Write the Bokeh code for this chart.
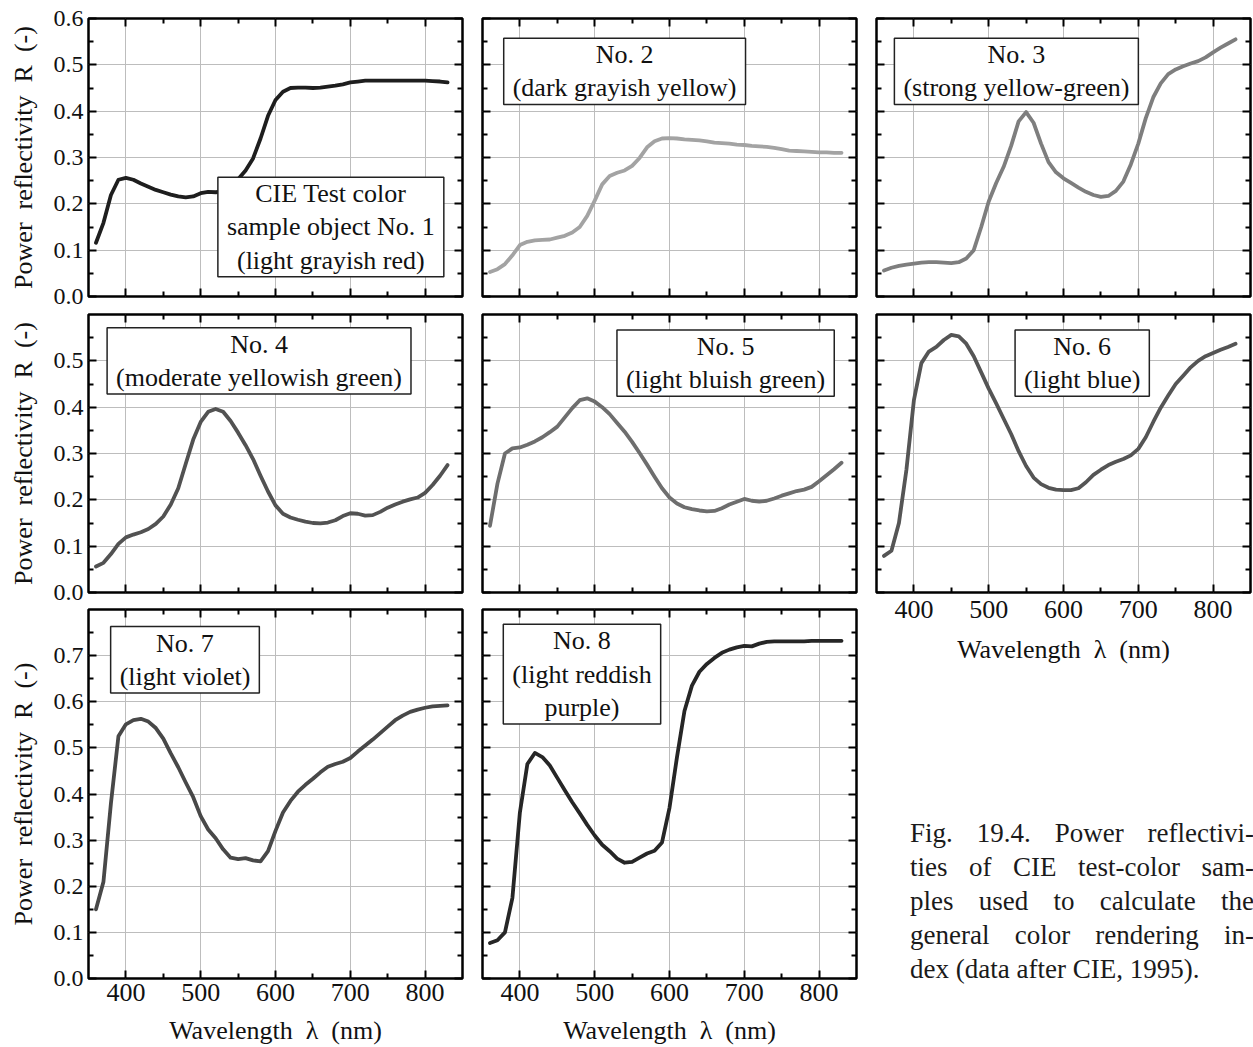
from bokeh.plotting import figure
from bokeh.models import (LinearAxis, FixedTicker, PrintfTickFormatter, CustomJSTickFormatter,
                          Range1d, Label, Div, Spacer)
from bokeh.layouts import row, column
from bokeh.embed import file_html
from bokeh.resources import INLINE

# ---------------- data ----------------
WAVELENGTH = [360, 370, 380, 390, 400, 410, 420, 430, 440, 450,
              460, 470, 480, 490, 500, 510, 520, 530, 540, 550,
              560, 570, 580, 590, 600, 610, 620, 630, 640, 650,
              660, 670, 680, 690, 700, 710, 720, 730, 740, 750,
              760, 770, 780, 790, 800, 810, 820, 830]

TCS01 = [0.116, 0.159, 0.219, 0.252, 0.256, 0.252, 0.244, 0.237, 0.230, 0.225,
         0.220, 0.216, 0.214, 0.216, 0.223, 0.226, 0.225, 0.227, 0.236, 0.253,
         0.272, 0.298, 0.341, 0.390, 0.424, 0.442, 0.450, 0.451, 0.451, 0.450,
         0.451, 0.453, 0.455, 0.458, 0.462, 0.464, 0.466, 0.466, 0.466, 0.466,
         0.466, 0.466, 0.466, 0.466, 0.466, 0.465, 0.464, 0.462]
TCS02 = [0.053, 0.059, 0.070, 0.089, 0.111, 0.118, 0.121, 0.122, 0.123, 0.127,
         0.131, 0.138, 0.150, 0.174, 0.207, 0.242, 0.260, 0.267, 0.272, 0.282,
         0.299, 0.322, 0.335, 0.341, 0.342, 0.341, 0.339, 0.338, 0.337, 0.335,
         0.332, 0.331, 0.330, 0.328, 0.327, 0.325, 0.324, 0.323, 0.321, 0.318,
         0.315, 0.314, 0.313, 0.312, 0.311, 0.311, 0.310, 0.310]
TCS03 = [0.056, 0.062, 0.066, 0.069, 0.071, 0.073, 0.074, 0.074, 0.073, 0.072,
         0.074, 0.082, 0.100, 0.150, 0.205, 0.245, 0.280, 0.325, 0.378, 0.398,
         0.375, 0.330, 0.290, 0.268, 0.255, 0.245, 0.235, 0.226, 0.219, 0.215,
         0.217, 0.228, 0.248, 0.285, 0.330, 0.385, 0.430, 0.460, 0.480, 0.490,
         0.497, 0.503, 0.508, 0.516, 0.527, 0.537, 0.546, 0.555]
TCS04 = [0.056, 0.064, 0.083, 0.105, 0.119, 0.125, 0.130, 0.137, 0.148, 0.164,
         0.190, 0.225, 0.278, 0.330, 0.368, 0.390, 0.396, 0.390, 0.370, 0.345,
         0.318, 0.288, 0.252, 0.218, 0.188, 0.170, 0.162, 0.157, 0.153, 0.150,
         0.149, 0.151, 0.156, 0.165, 0.171, 0.170, 0.166, 0.167, 0.174, 0.183,
         0.190, 0.196, 0.201, 0.205, 0.215, 0.232, 0.252, 0.275]
TCS05 = [0.144, 0.235, 0.300, 0.311, 0.313, 0.319, 0.326, 0.335, 0.346, 0.358,
         0.378, 0.398, 0.415, 0.419, 0.412, 0.400, 0.385, 0.366, 0.347, 0.325,
         0.301, 0.276, 0.250, 0.225, 0.205, 0.192, 0.184, 0.180, 0.177, 0.175,
         0.176, 0.182, 0.190, 0.196, 0.202, 0.198, 0.196, 0.198, 0.203, 0.209,
         0.214, 0.219, 0.222, 0.228, 0.240, 0.253, 0.266, 0.280]
TCS06 = [0.079, 0.090, 0.150, 0.265, 0.415, 0.495, 0.520, 0.530, 0.545, 0.556,
         0.553, 0.537, 0.510, 0.475, 0.440, 0.408, 0.375, 0.342, 0.305, 0.273,
         0.248, 0.234, 0.226, 0.222, 0.221, 0.221, 0.225, 0.238, 0.254, 0.265,
         0.275, 0.282, 0.288, 0.296, 0.310, 0.335, 0.368, 0.399, 0.425, 0.450,
         0.468, 0.486, 0.500, 0.510, 0.517, 0.524, 0.530, 0.537]
TCS07 = [0.150, 0.210, 0.380, 0.525, 0.551, 0.560, 0.563, 0.557, 0.543, 0.520,
         0.488, 0.458, 0.425, 0.393, 0.352, 0.323, 0.304, 0.280, 0.262, 0.259,
         0.261, 0.256, 0.254, 0.276, 0.320, 0.360, 0.385, 0.405, 0.420, 0.433,
         0.447, 0.459, 0.465, 0.470, 0.478, 0.492, 0.505, 0.518, 0.532, 0.546,
         0.560, 0.570, 0.578, 0.583, 0.587, 0.590, 0.591, 0.592]
TCS08 = [0.077, 0.083, 0.100, 0.175, 0.360, 0.465, 0.489, 0.480, 0.462, 0.435,
         0.408, 0.382, 0.358, 0.333, 0.310, 0.290, 0.276, 0.260, 0.251, 0.253,
         0.262, 0.271, 0.277, 0.295, 0.370, 0.480, 0.580, 0.635, 0.665, 0.682,
         0.695, 0.706, 0.713, 0.718, 0.721, 0.720, 0.726, 0.730, 0.731, 0.731,
         0.731, 0.731, 0.731, 0.732, 0.732, 0.732, 0.732, 0.732]

BOX_TEXTS = ["CIE Test color\nsample object No. 1\n(light grayish red)",
             "No. 2\n(dark grayish yellow)",
             "No. 3\n(strong yellow-green)",
             "No. 4\n(moderate yellowish green)",
             "No. 5\n(light bluish green)",
             "No. 6\n(light blue)",
             "No. 7\n(light violet)",
             "No. 8\n(light reddish\npurple)"]

X_MAJOR = [400, 500, 600, 700, 800]
X_MINOR = [450, 550, 650, 750]
Y_MAJOR_ROWS = [[0.0, 0.1, 0.2, 0.3, 0.4, 0.5, 0.6],
                [0.0, 0.1, 0.2, 0.3, 0.4, 0.5],
                [0.0, 0.1, 0.2, 0.3, 0.4, 0.5, 0.6, 0.7]]
Y_MINOR = [0.05, 0.15, 0.25, 0.35, 0.45, 0.55, 0.65, 0.75]
Y_MAX_ROWS = [0.6, 0.6, 0.8]

X_LABEL = "Wavelength\u00a0 λ\u00a0 (nm)"
Y_LABEL = "Power\u00a0 reflectivity\u00a0 R\u00a0 (-)"
CAPTION_LINES = ["Fig. 19.4. Power reflectivi-",
                 "ties of CIE test-color sam-",
                 "ples used to calculate the",
                 "general color rendering in-",
                 "dex (data after CIE, 1995)."]

# ---------------- styling / layout ----------------
FONT = "Liberation Serif"
FRAME_W = 374
COL_LEFT = [88, 10, 10]
COL_RIGHT = [10, 10, 3]
ROW_TOP = [18, 6, 5]
ROW_FRAME = [278, 278, 369]


def style_axis(ax, ticker, show_labels, fmt=None, label=None, label_standoff=14,
               size="24px", tick_standoff=5):
    ax.ticker = ticker
    ax.axis_line_color = None
    ax.major_tick_in = 8
    ax.major_tick_out = 0
    ax.minor_tick_in = 5
    ax.minor_tick_out = 0
    ax.major_tick_line_width = 2
    ax.minor_tick_line_width = 2
    ax.major_tick_line_color = "black"
    ax.minor_tick_line_color = "black"
    if show_labels:
        ax.formatter = fmt
        ax.major_label_text_font = FONT
        ax.major_label_text_font_size = size
        ax.major_label_text_color = "#111111"
        ax.major_label_standoff = tick_standoff
    else:
        ax.formatter = CustomJSTickFormatter(code="return ''")
        ax.major_label_text_font_size = "1px"
        ax.major_label_standoff = 0
    if label:
        ax.axis_label = label
        ax.axis_label_text_font = FONT
        ax.axis_label_text_font_size = "26px"
        ax.axis_label_text_font_style = "normal"
        ax.axis_label_text_color = "#111111"
        ax.axis_label_standoff = label_standoff


def panel(values, color, col, r, box_text, box_x, box_y, xlabels):
    left, right = COL_LEFT[col], COL_RIGHT[col]
    top, fh = ROW_TOP[r], ROW_FRAME[r]
    if r == 2:
        bottom = 69
    elif xlabels:
        bottom = 80
    else:
        bottom = 12
    p = figure(width=left + FRAME_W + right, height=top + fh + bottom,
               x_range=Range1d(350, 850), y_range=Range1d(0, Y_MAX_ROWS[r]),
               output_backend="svg", toolbar_location=None,
               min_border_left=left, min_border_right=right,
               min_border_top=top, min_border_bottom=bottom,
               background_fill_color="white", border_fill_color="white",
               outline_line_color="black", outline_line_width=2.5)
    xt = FixedTicker(ticks=X_MAJOR, minor_ticks=X_MINOR)
    yt = FixedTicker(ticks=Y_MAJOR_ROWS[r], minor_ticks=Y_MINOR)

    style_axis(p.xaxis[0], xt, xlabels, PrintfTickFormatter(format="%d"),
               X_LABEL if xlabels else None,
               label_standoff=(12 if r == 2 else 14), size="26px",
               tick_standoff=(5 if r == 2 else 8))
    style_axis(p.yaxis[0], yt, col == 0, PrintfTickFormatter(format="%.1f"),
               Y_LABEL if col == 0 else None, label_standoff=13)
    ax_top = LinearAxis()
    style_axis(ax_top, xt, False)
    p.add_layout(ax_top, "above")
    ax_right = LinearAxis()
    style_axis(ax_right, yt, False)
    p.add_layout(ax_right, "right")

    p.xgrid.ticker = xt
    p.ygrid.ticker = yt
    p.xgrid.grid_line_color = "#bdbdbd"
    p.ygrid.grid_line_color = "#bdbdbd"
    p.xgrid.grid_line_width = 1
    p.ygrid.grid_line_width = 1

    p.line(WAVELENGTH, values, line_color=color, line_width=3.8,
           line_join="round", line_cap="round")

    lab = Label(x=box_x, y=box_y, text=box_text, text_align="center",
                text_baseline="middle", text_font=FONT, text_font_size="26px",
                text_color="#111111", text_line_height=1.15,
                border_line_color="#222222", border_line_width=1.5,
                background_fill_color="white",
                padding=dict(left=9, right=9, top=2, bottom=2))
    p.add_layout(lab)
    return p


p1 = panel(TCS01, "#1e1e1e", 0, 0, BOX_TEXTS[0], 674, 0.150, False)
p2 = panel(TCS02, "#a3a3a3", 1, 0, BOX_TEXTS[1], 540, 0.486, False)
p3 = panel(TCS03, "#7e7e7e", 2, 0, BOX_TEXTS[2], 537, 0.486, False)
p4 = panel(TCS04, "#525252", 0, 1, BOX_TEXTS[3], 578, 0.500, False)
p5 = panel(TCS05, "#6e6e6e", 1, 1, BOX_TEXTS[4], 675, 0.495, False)
p6 = panel(TCS06, "#555555", 2, 1, BOX_TEXTS[5], 625, 0.495, True)
p7 = panel(TCS07, "#484848", 0, 2, BOX_TEXTS[6], 479, 0.691, True)
p8 = panel(TCS08, "#262626", 1, 2, BOX_TEXTS[7], 483, 0.660, True)

line_html = []
for i, ln in enumerate(CAPTION_LINES):
    last = i == len(CAPTION_LINES) - 1
    align = "text-align:left;" if last else "text-align:justify;text-align-last:justify;"
    line_html.append('<div style="white-space:nowrap;%s">%s</div>' % (align, ln))
caption = Div(text=('<div style="font-family:\'Liberation Serif\';font-size:27px;'
                    'line-height:34px;color:#1a1a1a;width:344px;">'
                    + "".join(line_html) + "</div>"),
              width=344, height=175)

layout = row(column(p1, p4, p7),
             column(p2, p5, p8),
             column(p3, p6, Spacer(height=139), row(Spacer(width=39), caption)))

open("out.html", "w").write(file_html(layout, INLINE))
